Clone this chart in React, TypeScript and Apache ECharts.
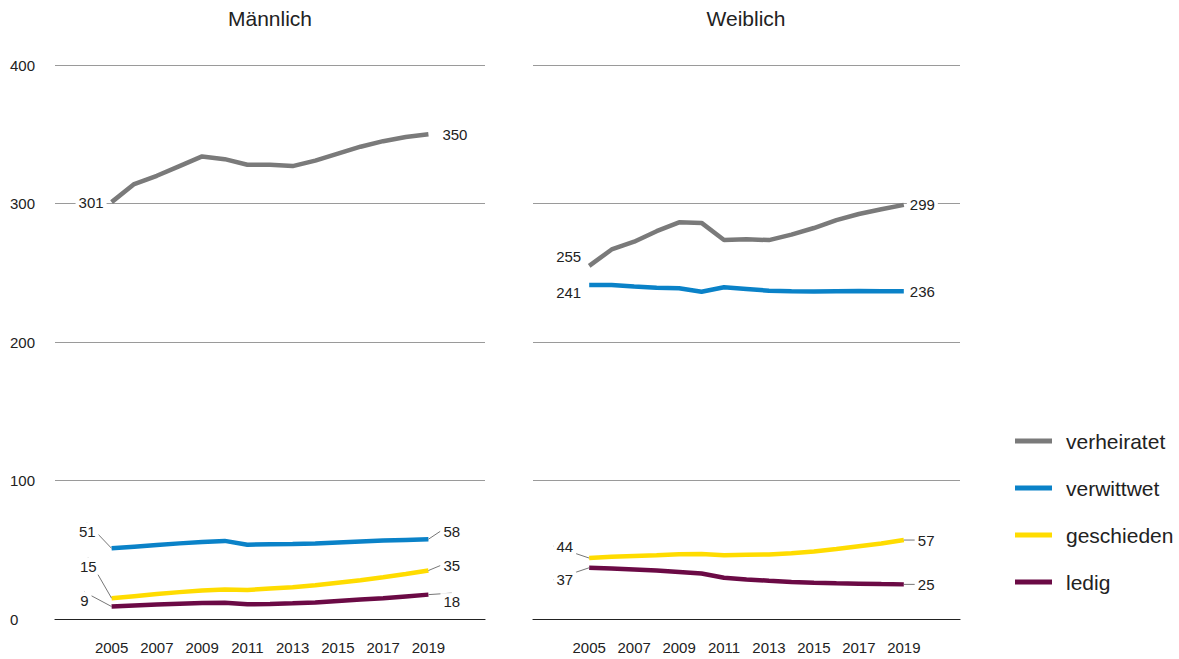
import React, { useEffect, useRef } from "react";
import * as echarts from "echarts";

const years = [2005, 2006, 2007, 2008, 2009, 2010, 2011, 2012, 2013, 2014, 2015, 2016, 2017, 2018, 2019];
const tickYears = [2005, 2007, 2009, 2011, 2013, 2015, 2017, 2019];
const seriesNames = ["verheiratet", "verwittwet", "geschieden", "ledig"];
const panelTitles = ["Männlich", "Weiblich"];

const maleVerheiratet = [301, 314, 320, 327, 334, 332, 328, 328, 327, 331, 336, 341, 345, 348, 350];
const maleVerwittwet = [51, 52.2, 53.4, 54.6, 55.6, 56.4, 53.6, 54, 54.2, 54.6, 55.3, 56, 56.6, 57.1, 57.6];
const maleGeschieden = [15, 16.5, 18, 19.4, 20.6, 21.3, 20.9, 22, 23, 24.3, 26.2, 28, 30.2, 32.5, 35];
const maleLedig = [9, 9.8, 10.5, 11, 11.5, 11.7, 10.6, 10.8, 11.3, 12, 13, 14, 15, 16.3, 17.6];

const femaleVerheiratet = [255, 266.8, 272.4, 280, 286.4, 286, 273.6, 274.1, 273.6, 277.5, 282.3, 288, 292.4, 295.8, 299];
const femaleVerwittwet = [241.2, 241.2, 240.1, 239.2, 238.8, 236.3, 239.5, 238.3, 237, 236.6, 236.5, 236.7, 236.8, 236.7, 236.6];
const femaleGeschieden = [44, 45, 45.5, 46, 46.8, 47, 46, 46.3, 46.6, 47.5, 48.8, 50.5, 52.5, 54.5, 57];
const femaleLedig = [37, 36.5, 35.8, 35, 34, 32.8, 29.8, 28.6, 27.6, 26.8, 26.2, 25.8, 25.5, 25.2, 25];

const startLabels = [
  [301, 51, 15, 9],
  [255, 241, 44, 37],
];
const endLabels = [
  [350, 58, 35, 18],
  [299, 236, 57, 25],
];

const panels = [
  [maleVerheiratet, maleVerwittwet, maleGeschieden, maleLedig],
  [femaleVerheiratet, femaleVerwittwet, femaleGeschieden, femaleLedig],
];

const colors = ["#7a7a7a", "#0a82c8", "#ffdc00", "#6b0a45"];

// label offsets [dx, dy, showLine] for start / end labels, per panel and series
const startOffsets = [
  [[0, 0, false], [-8, -17, true], [-7, -32, true], [-15, -6, true]],
  [[0, -9, false], [0, 8, false], [-8, -12, true], [-8, 12, true]],
];
const endOffsets = [
  [[6, 0, false], [7, -8, true], [7, -5, true], [7, 7, true]],
  [[-2, 0, false], [-2, 0, false], [6, 0, true], [6, 0, true]],
];

const FONT = "'Liberation Sans', Arial, sans-serif";

export default function App() {
  const ref = useRef<HTMLDivElement>(null);
  useEffect(() => {
    if (!ref.current) return;
    const chart = echarts.init(ref.current, null, { renderer: "svg" });
    const grids = [
      { left: 55, right: 1179 - 485, top: 65, bottom: 40 },
      { left: 533, right: 1179 - 960, top: 65, bottom: 40 },
    ];
    const xAxes = grids.map((_, gi) => ({
      type: "value",
      gridIndex: gi,
      min: 2002.5,
      max: 2021.5,
      splitLine: { show: false },
      axisTick: { show: false },
      axisLine: { show: true, onZero: false, lineStyle: { color: "#222", width: 1.2 } },
      axisLabel: {
        customValues: tickYears,
        formatter: (v: number) => String(v),
        color: "#222",
        fontSize: 15,
        fontFamily: FONT,
        margin: 21,
      },
    }));
    const yAxes = grids.map((_, gi) => ({
      type: "value",
      gridIndex: gi,
      min: 0,
      max: 400,
      interval: 100,
      axisLine: { show: false },
      axisTick: { show: false },
      splitLine: { show: true, lineStyle: { color: "#9a9a9a", width: 1.2 } },
      axisLabel: {
        show: gi === 0,
        align: "left",
        margin: 45,
        color: "#222",
        fontSize: 15,
        fontFamily: FONT,
      },
    }));
    const series: any[] = [];
    const offsetList: any[] = [];
    panels.forEach((panel, pi) => {
      panel.forEach((vals, si) => {
        const last = vals.length - 1;
        offsetList.push({ start: startOffsets[pi][si], end: endOffsets[pi][si] });
        series.push({
          type: "line",
          name: seriesNames[si],
          xAxisIndex: pi,
          yAxisIndex: pi,
          symbol: "circle",
          symbolSize: 0,
          showSymbol: true,
          color: colors[si],
          lineStyle: { color: colors[si], width: 4.5, cap: "butt" },
          itemStyle: { color: colors[si] },
          z: 10 - si,
          label: { show: false },
          labelLine: { show: true, lineStyle: { color: "#777", width: 1 } },
          labelLayout: (params: any) => {
            const o = offsetList[params.seriesIndex];
            if (!o) return {};
            const off = params.dataIndex === 0 ? o.start : o.end;
            return { dx: off[0], dy: off[1] };
          },
          data: vals.map((v, i) => {
            const item: any = { value: [years[i], v] };
            if (i === 0 || i === last) {
              const off = i === 0 ? startOffsets[pi][si] : endOffsets[pi][si];
              item.label = {
                show: true,
                position: i === 0 ? "left" : "right",
                distance: 5,
                formatter: String(i === 0 ? startLabels[pi][si] : endLabels[pi][si]),
                color: "#222",
                fontSize: 15,
                fontFamily: FONT,
                backgroundColor: "#fff",
                padding: [1, 3],
              };
              item.labelLine = { show: off[2] };
            }
            return item;
          }),
        });
      });
    });
    chart.setOption({
      animation: false,
      backgroundColor: "#fff",
      title: panelTitles.map((t, i) => ({
        text: t,
        left: i === 0 ? 270 : 746,
        top: 8,
        padding: 0,
        textAlign: "center",
        textStyle: { fontSize: 21, fontWeight: "normal", color: "#222", fontFamily: FONT },
      })),
      legend: {
        orient: "vertical",
        left: 1010,
        top: 424,
        icon: "rect",
        itemWidth: 37,
        itemHeight: 5,
        itemGap: 23,
        data: seriesNames,
        textStyle: {
          fontSize: 21,
          color: "#222",
          fontFamily: FONT,
          lineHeight: 24,
          padding: [0, 0, 0, 9],
        },
      },
      grid: grids,
      xAxis: xAxes,
      yAxis: yAxes,
      series,
    } as any);
    return () => chart.dispose();
  }, []);
  return (
    <div
      ref={ref}
      style={{ position: "fixed", left: 0, top: 0, width: 1179, height: 659 }}
    />
  );
}
